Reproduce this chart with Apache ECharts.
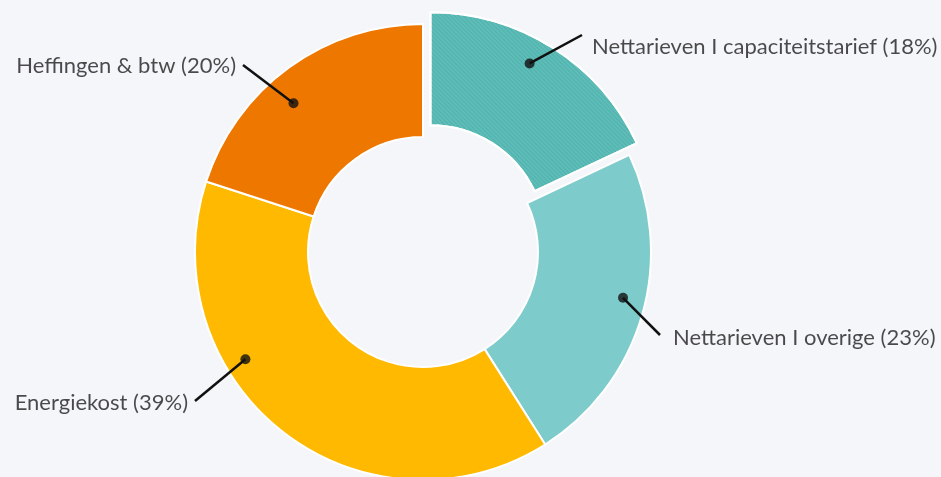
<!DOCTYPE html>
<html>
<head>
<meta charset="utf-8">
<title>Energiefactuur</title>
<script src="https://cdn.jsdelivr.net/npm/echarts@6/dist/echarts.min.js"></script>
<style>html,body{margin:0;padding:0;background:#f4f6f9;}</style>
</head>
<body>
<div id="main" style="width:941px;height:477px;"></div>
<script>
var categories = ['Nettarieven I capaciteitstarief', 'Nettarieven I overige', 'Energiekost', 'Heffingen & btw'];
var shares = [18, 23, 39, 20];
var colors = ['#5dbdb8', '#7ecbcb', '#ffb900', '#ee7700'];

// dot inside each slice: fraction along the slice angle, fraction of the outer radius
var anchorAt = [0.455, 0.46, 0.65, 0.43];
var anchorR = [0.95, 0.9, 0.91, 0.865];
// label placement in px: x, y, align ; and where the leader line stops
var labelPos = [[592, 47, 'left'], [673, 338, 'left'], [188, 403, 'right'], [236, 66, 'right']];
var lineEnd = [[582, 35], [660, 335], [195, 401], [243, 65]];

var CX = 423, CY = 252, R = 228, R0 = 115;

var myChart = echarts.init(document.getElementById('main'));

var total = shares.reduce(function (a, b) { return a + b; }, 0);
var cum = 0;
var anchors = shares.map(function (v, i) {
    var a = cum + anchorAt[i] * v;
    cum += v;
    return { name: categories[i], value: [anchorR[i], a / total * 100] };
});

var hatch = {
    symbol: 'rect',
    symbolSize: 1,
    dashArrayX: [[1, 0]],
    dashArrayY: [1, 2],
    rotation: Math.PI / 4,
    color: 'rgba(30,110,105,0.16)'
};

var pieData = categories.map(function (name, i) {
    var style = { color: colors[i] };
    if (i === 0) style.decal = hatch;
    return {
        name: name,
        value: shares[i],
        selected: i === 0,
        itemStyle: style,
        select: { itemStyle: style }
    };
});

var option = {
    backgroundColor: '#f4f6f9',
    animation: false,
    polar: { center: [CX, CY], radius: R },
    angleAxis: { type: 'value', min: 0, max: 100, startAngle: 90, clockwise: true, show: false },
    radiusAxis: { type: 'value', min: 0, max: 1, show: false },
    series: [{
        type: 'pie',
        center: [CX, CY],
        radius: [R0, R],
        startAngle: 90,
        clockwise: true,
        selectedMode: 'single',
        selectedOffset: 14,
        itemStyle: { borderColor: '#ffffff', borderWidth: 2 },
        emphasis: { disabled: true },
        label: { show: false },
        labelLine: { show: false },
        data: pieData,
        z: 1
    }, {
        // leader lines from the dot to the label
        type: 'custom',
        coordinateSystem: 'polar',
        silent: true,
        z: 4,
        renderItem: function (params, api) {
            var i = params.dataIndex;
            var p = api.coord([api.value(0), api.value(1)]);
            return {
                type: 'line',
                shape: { x1: p[0], y1: p[1], x2: lineEnd[i][0], y2: lineEnd[i][1] },
                style: { stroke: '#111111', lineWidth: 2.5 }
            };
        },
        data: anchors
    }, {
        type: 'scatter',
        coordinateSystem: 'polar',
        symbolSize: 10,
        itemStyle: { color: '#111111' },
        silent: true,
        z: 5,
        label: {
            show: true,
            formatter: function (p) {
                return p.name + ' (' + shares[p.dataIndex] + '%)';
            },
            fontFamily: 'Lato',
            fontSize: 22,
            color: '#1e1e1e'
        },
        labelLayout: function (params) {
            var i = params.dataIndex;
            return {
                x: labelPos[i][0],
                y: labelPos[i][1],
                align: labelPos[i][2],
                verticalAlign: 'middle'
            };
        },
        data: anchors
    }]
};

myChart.setOption(option);
</script>
</body>
</html>
